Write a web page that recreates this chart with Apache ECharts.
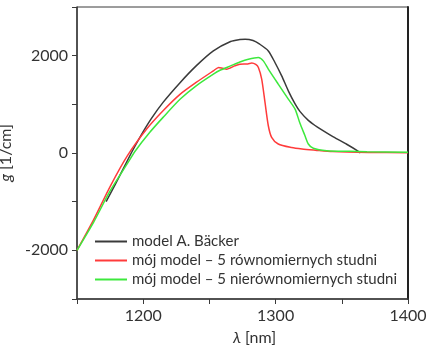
<!DOCTYPE html>
<html>
<head>
<meta charset="utf-8">
<script src="https://cdn.jsdelivr.net/npm/echarts@6/dist/echarts.min.js"></script>
<style>
html,body{margin:0;padding:0;background:#fff;}
#c{width:427px;height:346px;}
</style>
</head>
<body>
<div id="c"></div>
<script>
// Series names
const seriesNames = ['model A. Bäcker', 'mój model – 5 równomiernych studni', 'mój model – 5 nierównomiernych studni'];

// model A. Bäcker (black)
const blackX = [1172, 1179, 1191, 1197.6, 1206, 1215, 1228, 1240, 1253, 1266, 1273, 1277, 1283, 1288, 1294.5, 1299.5, 1304.6, 1309.6, 1314.7, 1318.5, 1324.7, 1329.8, 1334, 1343.6, 1353.7, 1362.5, 1364];
const blackY = [-1000, -640, 0, 328, 700, 1040, 1450, 1790, 2098, 2290, 2330, 2338, 2310, 2236, 2098, 1860, 1585, 1278, 1010, 850, 670, 565, 490, 330, 180, 35, 0];

// 5 równomiernych studni (red)
const redX = [1150, 1162.6, 1175, 1188, 1202.6, 1215, 1228, 1240, 1253, 1257, 1260, 1263, 1269, 1273, 1279, 1282, 1285, 1287, 1289.5, 1292, 1294.5, 1297, 1302, 1312, 1320, 1330, 1343, 1370, 1400];
const redY = [-2000, -1370, -690, -60, 492, 868, 1210, 1450, 1688, 1758, 1740, 1723, 1790, 1825, 1830, 1850, 1820, 1758, 1518, 1040, 560, 322, 185, 112, 82, 58, 30, 12, 5];

// 5 nierównomiernych studni (green)
const greenX = [1150, 1162.6, 1175, 1188, 1194, 1205, 1215, 1228, 1240, 1253, 1258, 1266, 1273, 1279.4, 1287, 1290.7, 1294.5, 1302, 1309.6, 1314.7, 1318.4, 1322.2, 1324.7, 1328.5, 1338.6, 1356, 1369, 1400];
const greenY = [-2000, -1420, -780, -220, 40, 425, 732, 1108, 1380, 1620, 1700, 1790, 1870, 1928, 1963, 1893, 1723, 1415, 1108, 902, 610, 355, 185, 96, 47, 35, 25, 15];

// Axis ticks
const xMin = 1150, xMax = 1400, xStep = 50;
const xLabels = [1200, 1300, 1400];
const yMin = -3000, yMax = 3000, yStep = 1000;
const yLabels = [-2000, 0, 2000];

const colors = ['#3a3a3a', '#ff3b3b', '#3de83d'];
const FONT = 'Lato';

function pairs(xs, ys) { return xs.map((x, i) => [x, ys[i]]); }

const chart = echarts.init(document.getElementById('c'), null, {renderer: 'canvas'});
chart.setOption({
  animation: false,
  backgroundColor: '#fff',
  grid: {left: 77, right: 19, top: 7, bottom: 47, show: true, borderColor: '#3a3a3a', borderWidth: 1,
         containLabel: false, outerBoundsMode: 'none'},
  legend: {
    orient: 'vertical', left: 95, top: 234, padding: 0, itemGap: 4,
    icon: 'rect', itemWidth: 32, itemHeight: 2,
    textStyle: {fontFamily: FONT, fontSize: 15, lineHeight: 15, color: '#333'},
    data: seriesNames
  },
  xAxis: {
    type: 'value', min: xMin, max: xMax, interval: xStep,
    axisLine: {onZero: false, lineStyle: {color: '#3a3a3a', width: 1.5}},
    axisTick: {length: 5, lineStyle: {color: '#3a3a3a'}},
    splitLine: {show: false},
    axisLabel: {
      fontFamily: FONT, fontSize: 16, color: '#333', margin: 9, showMaxLabel: true,
      formatter: v => xLabels.includes(v) ? String(v) : ''
    },
    name: '{i|λ} [nm]', nameLocation: 'middle', nameGap: 31,
    nameTextStyle: {
      fontFamily: FONT, fontSize: 16, color: '#333', padding: [0, 0, 0, 24],
      rich: {i: {fontStyle: 'italic', fontFamily: FONT, fontSize: 16, color: '#333'}}
    }
  },
  yAxis: [{
    type: 'value', min: yMin, max: yMax, interval: yStep,
    axisLine: {show: true, onZero: false, lineStyle: {color: '#3a3a3a', width: 1.5}},
    axisTick: {show: true, length: 5, lineStyle: {color: '#3a3a3a'}},
    splitLine: {show: false},
    axisLabel: {
      fontFamily: FONT, fontSize: 16, color: '#333', margin: 9,
      formatter: v => yLabels.includes(v) ? String(v) : ''
    },
    name: '{i|g} [1/cm]', nameLocation: 'middle', nameGap: 46, nameRotate: 90,
    nameTextStyle: {
      fontFamily: FONT, fontSize: 16, color: '#333',
      rich: {i: {fontStyle: 'italic', fontFamily: FONT, fontSize: 16, color: '#333'}}
    }
  }, {
    type: 'value', min: yMin, max: yMax, position: 'right',
    axisLine: {show: true, onZero: false, lineStyle: {color: '#222', width: 2}},
    axisTick: {show: false}, axisLabel: {show: false}, splitLine: {show: false}
  }],
  series: [
    {name: seriesNames[0], type: 'line', data: pairs(blackX, blackY), symbol: 'none', smooth: 0.25,
     lineStyle: {color: colors[0], width: 1.5}, itemStyle: {color: colors[0]}},
    {name: seriesNames[1], type: 'line', data: pairs(redX, redY), symbol: 'none', smooth: 0.25,
     lineStyle: {color: colors[1], width: 1.5}, itemStyle: {color: colors[1]}},
    {name: seriesNames[2], type: 'line', data: pairs(greenX, greenY), symbol: 'none', smooth: 0.25,
     lineStyle: {color: colors[2], width: 1.5}, itemStyle: {color: colors[2]}}
  ]
});
</script>
</body>
</html>
